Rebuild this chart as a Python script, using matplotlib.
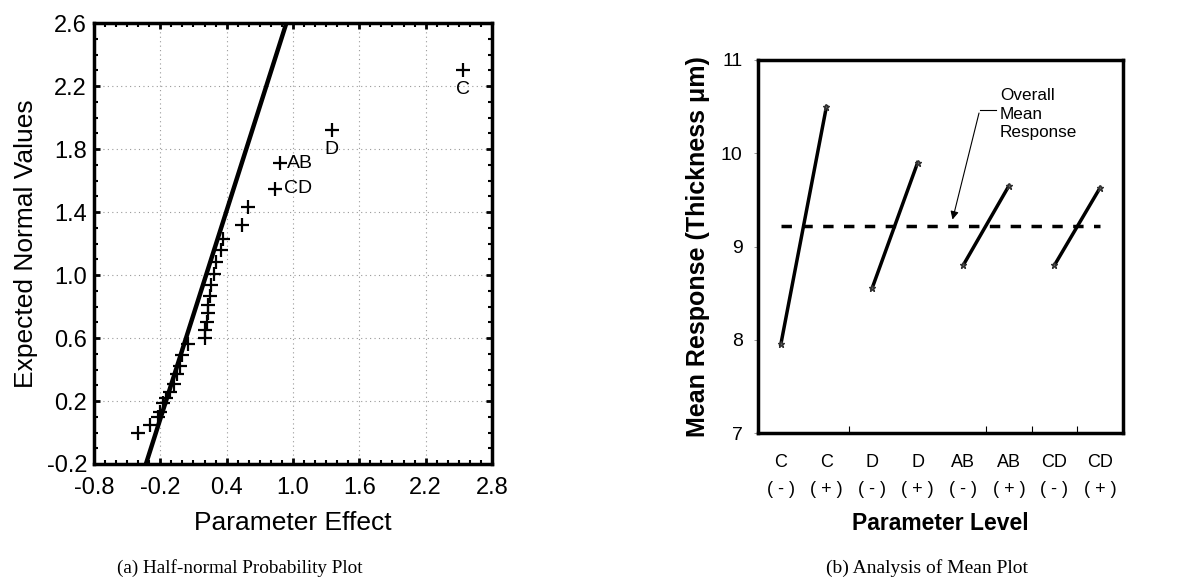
import matplotlib.pyplot as plt
import numpy as np
from matplotlib.ticker import MultipleLocator

plt.rcParams['font.family'] = ['Liberation Sans', 'DejaVu Sans']

# half-normal plot data
effect = [-0.40, -0.29, -0.22, -0.20, -0.18, -0.15, -0.11, -0.08, -0.05, -0.02,
          0.00, 0.05, 0.20, 0.20, 0.22, 0.23, 0.23, 0.25, 0.26, 0.29, 0.30,
          0.35, 0.37, 0.54, 0.59, 0.84, 0.88, 1.35, 2.54]
normal_score = [0.00, 0.05, 0.10, 0.13, 0.19, 0.22, 0.26, 0.31, 0.37, 0.42,
                0.49, 0.56, 0.60, 0.65, 0.70, 0.76, 0.81, 0.87, 0.94, 1.01, 1.08,
                1.16, 1.23, 1.32, 1.43, 1.55, 1.71, 1.92, 2.30]
fit_x = [-0.33, 0.94]
fit_y = [-0.2, 2.6]
x_ticks = [-0.8, -0.2, 0.4, 1.0, 1.6, 2.2, 2.8]
y_ticks = [-0.2, 0.2, 0.6, 1.0, 1.4, 1.8, 2.2, 2.6]

# mean response data
levels = ['C\n( - )', 'C\n( + )', 'D\n( - )', 'D\n( + )',
          'AB\n( - )', 'AB\n( + )', 'CD\n( - )', 'CD\n( + )']
means = [7.95, 10.5, 8.55, 9.9, 8.8, 9.65, 8.8, 9.63]
overall_mean = 9.22

fig = plt.figure(figsize=(11.82, 5.8), dpi=100)

# ---- (a) half-normal plot
ax1 = fig.add_axes([0.0795, 0.2, 0.3367, 0.76])
ax1.plot(fit_x, fit_y, color='black', lw=3.2, solid_capstyle='butt')
ax1.plot(effect, normal_score, '+', color='black', ms=9.5, mew=1.6)
ax1.text(0.95, 1.71, 'AB', fontsize=14, va='center', ha='left')
ax1.text(0.92, 1.55, 'CD', fontsize=14, va='center', ha='left')
ax1.text(1.35, 1.85, 'D', fontsize=14, va='top', ha='center')
ax1.text(2.54, 2.23, 'C', fontsize=14, va='top', ha='center')
ax1.set_xlim(-0.8, 2.8)
ax1.set_ylim(-0.2, 2.6)
ax1.set_xticks(x_ticks)
ax1.set_yticks(y_ticks)
ax1.xaxis.set_minor_locator(MultipleLocator(0.1))
ax1.yaxis.set_minor_locator(MultipleLocator(0.1))
ax1.xaxis.set_major_formatter(lambda v, p: f'{v:.1f}')
ax1.yaxis.set_major_formatter(lambda v, p: f'{v:.1f}')
ax1.grid(True, which='major', color='#999999', ls=(0, (1, 3)), lw=0.8)
ax1.tick_params(which='both', direction='in', top=True, right=True, labelsize=17)
ax1.tick_params(which='major', length=4, width=2)
ax1.tick_params(axis='y', which='major', pad=5)
ax1.tick_params(axis='x', which='major', pad=9)
ax1.tick_params(which='minor', length=3, width=1.5)
for s in ax1.spines.values():
    s.set_linewidth(2.5)
ax1.set_xlabel('Parameter Effect', fontsize=19, labelpad=9)
ax1.set_ylabel('Expected Normal Values', fontsize=19, labelpad=6)

# ---- (b) analysis of mean plot
ax2 = fig.add_axes([0.6413, 0.2534, 0.3087, 0.6432])
pos = np.arange(1, len(levels) + 1)
for i in range(0, len(levels), 2):
    ax2.plot(pos[i:i + 2], means[i:i + 2], color='black', lw=2.5,
             marker='*', ms=5, mfc='#666666', mec='#333333')
ax2.plot([pos[0], pos[-1]], [overall_mean, overall_mean], color='black',
         lw=2.5, ls=(0, (3, 3)))
ax2.annotate('', xy=(4.75, 9.26), xytext=(5.36, 10.46),
             arrowprops=dict(arrowstyle='-|>', color='black', lw=0.8,
                             mutation_scale=12))
ax2.plot([5.36, 5.72], [10.46, 10.46], color='black', lw=0.8)
ax2.text(5.8, 10.7, 'Overall\nMean\nResponse', fontsize=12.3, va='top',
         ha='left', linespacing=1.3)
ax2.set_xlim(0.5, 8.5)
ax2.set_ylim(7, 11)
ax2.set_yticks([7, 8, 9, 10, 11])
ax2.set_xticks(pos)
ax2.set_xticklabels(levels, fontsize=13, linespacing=1.75)
ax2.set_xticks([2.5, 5.5, 6.5, 7.5], minor=True)
ax2.tick_params(axis='x', which='major', length=0, pad=15)
ax2.tick_params(axis='x', which='minor', direction='in', length=5, width=0.8)
ax2.tick_params(axis='y', which='major', length=3, width=0.6, labelsize=14,
                pad=8, color='#888888')
for s in ax2.spines.values():
    s.set_linewidth(2.5)
ax2.set_xlabel('Parameter Level', fontsize=16.5, fontweight='bold', labelpad=10)
ax2.set_ylabel('Mean Response (Thickness \u03bcm)', fontsize=18,
               fontweight='bold', labelpad=8)

fig.text(0.203, 0.012, '(a) Half-normal Probability Plot', fontsize=13.8,
         family='Liberation Serif', ha='center')
fig.text(0.784, 0.012, '(b) Analysis of Mean Plot', fontsize=14,
         family='Liberation Serif', ha='center')

fig.savefig('out.png', dpi=100)
